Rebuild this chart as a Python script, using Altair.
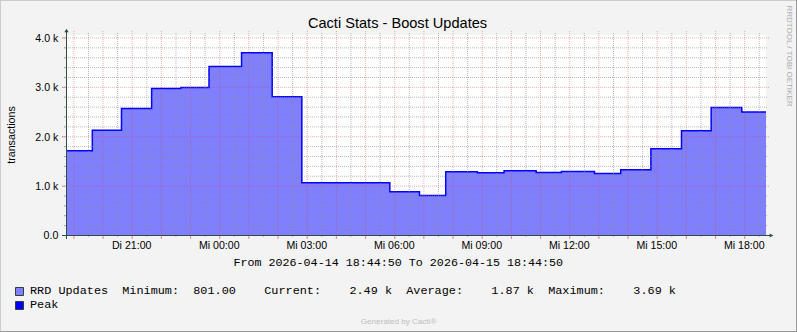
import altair as alt
import pandas as pd

# ---------------- data ----------------
START = "2026-04-14 18:44:50"
END = "2026-04-15 18:44:50"

step_times = [
    "2026-04-14 18:44:50", "2026-04-14 19:39", "2026-04-14 20:39", "2026-04-14 21:41",
    "2026-04-14 22:41", "2026-04-14 23:39", "2026-04-15 00:46", "2026-04-15 01:49",
    "2026-04-15 02:50", "2026-04-15 05:51", "2026-04-15 06:52", "2026-04-15 07:46",
    "2026-04-15 08:51", "2026-04-15 09:46", "2026-04-15 10:52", "2026-04-15 11:44",
    "2026-04-15 12:52", "2026-04-15 13:46", "2026-04-15 14:48", "2026-04-15 15:51",
    "2026-04-15 16:52", "2026-04-15 17:55",
]
rrd_updates = [1708, 2120, 2560, 2965, 2985, 3410, 3690, 2800, 1060, 876, 801,
               1280, 1260, 1300, 1268, 1288, 1247, 1320, 1748, 2113, 2580, 2490]
peak = [1708, 2120, 2560, 2965, 2985, 3410, 3690, 2800, 1060, 876, 801,
        1280, 1260, 1300, 1268, 1288, 1247, 1320, 1748, 2113, 2580, 2490]

x_tick_times = ["2026-04-14 21:00", "2026-04-15 00:00", "2026-04-15 03:00", "2026-04-15 06:00",
                "2026-04-15 09:00", "2026-04-15 12:00", "2026-04-15 15:00", "2026-04-15 18:00"]
x_tick_labels = ["Di 21:00", "Mi 00:00", "Mi 03:00", "Mi 06:00",
                 "Mi 09:00", "Mi 12:00", "Mi 15:00", "Mi 18:00"]
y_tick_values = [0, 1000, 2000, 3000, 4000]
y_tick_labels = ["0.0", "1.0 k", "2.0 k", "3.0 k", "4.0 k"]

title_text = "Cacti Stats - Boost Updates"
y_title = "transactions"
range_text = "From 2026-04-14 18:44:50 To 2026-04-15 18:44:50"
legend_names = ["RRD Updates", "Peak"]
legend_colors = ["#7F7FFF", "#0000FF"]
stat_names = ["Minimum:", "Current:", "Average:", "Maximum:"]
stat_values = ["801.00", "2.49 k", "1.87 k", "3.69 k"]
footer_text = "Generated by Cacti\u00ae"
side_text = "RRDTOOL / TOBI OETIKER"

# ---------------- helpers ----------------
t0 = pd.Timestamp(START)


def hours(t):
    return (pd.Timestamp(t) - t0) / pd.Timedelta(hours=1)


main = pd.DataFrame({
    "h": [hours(t) for t in step_times] + [hours(END)],
    "updates": rrd_updates + [rrd_updates[-1]],
    "peak": peak + [peak[-1]],
})

major_x = pd.DataFrame({"h": [hours(t) for t in pd.date_range("2026-04-14 19:00", "2026-04-15 18:00", freq="h")]})
minor_x = pd.DataFrame({"h": [hours(t) for t in pd.date_range("2026-04-14 19:30", "2026-04-15 18:30", freq="h")]})
major_y = pd.DataFrame({"v": [1000, 2000, 3000, 4000]})
minor_y = pd.DataFrame({"v": [v for v in range(200, 4001, 200) if v % 1000 != 0]})
xlab = pd.DataFrame({"h": [hours(t) for t in x_tick_times], "label": x_tick_labels})
ylab = pd.DataFrame({"v": y_tick_values, "label": y_tick_labels})

W, H = 700, 200
xs = alt.Scale(domain=[0, 24], nice=False, zero=False)
ys = alt.Scale(domain=[0, 4050], nice=False, zero=False)
X = alt.X("h:Q", scale=xs, axis=None)
AXIS_C = "#2C4D43"
GRID_C = "#8C8C8C"
MGRID_C = "#D04848"
SANS = "Liberation Sans"
MONO = "Liberation Mono"


def one(text):
    return pd.DataFrame({"t": [text]})


layers = []

# data
layers.append(alt.Chart(main).mark_area(interpolate="step-after", color="#7F7FFF").encode(
    x=X, y=alt.Y("updates:Q", scale=ys, axis=None)))
layers.append(alt.Chart(main).mark_line(interpolate="step-after", color="#0000FF", strokeWidth=1.5).encode(
    x=X, y=alt.Y("peak:Q", scale=ys, axis=None)))

# grid (drawn over data, semi transparent like rrdtool)
layers.append(alt.Chart(minor_y).mark_rule(color=GRID_C, opacity=0.6, strokeDash=[1, 1], yOffset=0.5).encode(
    y=alt.Y("v:Q", scale=ys, axis=None), x=alt.value(-2), x2=alt.value(W + 2)))
layers.append(alt.Chart(minor_x).mark_rule(color=GRID_C, opacity=0.6, strokeDash=[1, 1], xOffset=0.5).encode(
    x=X, y=alt.value(-2), y2=alt.value(H + 2)))
layers.append(alt.Chart(major_y).mark_rule(color=MGRID_C, opacity=0.42, strokeDash=[1, 1], yOffset=0.5).encode(
    y=alt.Y("v:Q", scale=ys, axis=None), x=alt.value(-4), x2=alt.value(W + 4)))
layers.append(alt.Chart(major_x).mark_rule(color=MGRID_C, opacity=0.42, strokeDash=[1, 1], xOffset=0.5).encode(
    x=X, y=alt.value(-4), y2=alt.value(H + 4)))
# solid stubs
layers.append(alt.Chart(minor_y).mark_rule(color=GRID_C, opacity=0.6, yOffset=0.5).encode(
    y=alt.Y("v:Q", scale=ys, axis=None), x=alt.value(-2), x2=alt.value(0)))
layers.append(alt.Chart(major_y).mark_rule(color=MGRID_C, opacity=0.5, yOffset=0.5).encode(
    y=alt.Y("v:Q", scale=ys, axis=None), x=alt.value(-4), x2=alt.value(0)))
layers.append(alt.Chart(minor_x).mark_rule(color=GRID_C, opacity=0.6, xOffset=0.5).encode(
    x=X, y=alt.value(H), y2=alt.value(H + 2)))
layers.append(alt.Chart(major_x).mark_rule(color=MGRID_C, opacity=0.5, xOffset=0.5).encode(
    x=X, y=alt.value(H), y2=alt.value(H + 4)))

# axes
layers.append(alt.Chart(one("x")).mark_rule(color=AXIS_C, strokeWidth=1).encode(
    x=alt.value(-4), x2=alt.value(W + 4), y=alt.value(H + 0.5)))
layers.append(alt.Chart(one("y")).mark_rule(color=AXIS_C, strokeWidth=1).encode(
    x=alt.value(0.5), y=alt.value(-4), y2=alt.value(H + 4)))
layers.append(alt.Chart(one("up")).mark_point(shape="triangle-up", filled=True, opacity=1, color=AXIS_C, size=18).encode(
    x=alt.value(0.5), y=alt.value(-4.5)))
layers.append(alt.Chart(one("right")).mark_point(shape="triangle-right", filled=True, opacity=1, color=AXIS_C, size=18).encode(
    x=alt.value(W + 5.5), y=alt.value(H + 0.5)))

# tick labels
layers.append(alt.Chart(xlab).mark_text(font=SANS, fontSize=10.6, align="center", baseline="alphabetic", color="#000000").encode(
    x=X, y=alt.value(213.7), text="label:N"))
layers.append(alt.Chart(ylab).mark_text(font=SANS, fontSize=10.6, align="right", baseline="alphabetic", dy=4.4, color="#000000").encode(
    y=alt.Y("v:Q", scale=ys, axis=None), x=alt.value(-7.7), text="label:N"))

# titles and annotations
layers.append(alt.Chart(one(title_text)).mark_text(font=SANS, fontSize=14.6, align="center", baseline="alphabetic", color="#000000").encode(
    x=alt.value(331.5), y=alt.value(-6.7), text="t:N"))
layers.append(alt.Chart(one(y_title)).mark_text(font=SANS, fontSize=10.7, angle=270, align="center", baseline="alphabetic", color="#000000").encode(
    x=alt.value(-51), y=alt.value(100), text="t:N"))
layers.append(alt.Chart(one(range_text.replace(" ", "\u00a0"))).mark_text(font=MONO, fontSize=11.7, align="center", baseline="alphabetic", color="#000000").encode(
    x=alt.value(332.3), y=alt.value(231), text="t:N"))

legend_line = (legend_names[0] + "  " + stat_names[0] + "  " + stat_values[0] + "    "
               + stat_names[1] + "    " + stat_values[1] + "  " + stat_names[2] + "    "
               + stat_values[2] + "  " + stat_names[3] + "    " + stat_values[3])
layers.append(alt.Chart(one(legend_line.replace(" ", "\u00a0"))).mark_text(font=MONO, fontSize=11.83, align="left", baseline="alphabetic", color="#000000").encode(
    x=alt.value(-36), y=alt.value(259), text="t:N"))
layers.append(alt.Chart(one(legend_names[1])).mark_text(font=MONO, fontSize=11.83, align="left", baseline="alphabetic", color="#000000").encode(
    x=alt.value(-36), y=alt.value(273), text="t:N"))
for i, col in enumerate(legend_colors):
    y0 = 252.5 + 14 * i
    layers.append(alt.Chart(one(legend_names[i])).mark_rect(fill=col, stroke="#2F3F3F", strokeWidth=1).encode(
        x=alt.value(-50.5), x2=alt.value(-42.5), y=alt.value(y0), y2=alt.value(y0 + 8)))

layers.append(alt.Chart(one(footer_text)).mark_text(font=SANS, fontSize=8.1, align="center", baseline="alphabetic", color="#BDBDBD").encode(
    x=alt.value(332.5), y=alt.value(289), text="t:N"))
layers.append(alt.Chart(one(side_text)).mark_text(font=SANS, fontSize=8, angle=90, align="center", baseline="middle", color="#ABABAB").encode(
    x=alt.value(722.5), y=alt.value(21), text="t:N"))

# outer border
layers.append(alt.Chart(one("top")).mark_rule(color="#CBCBCB").encode(x=alt.value(-66), x2=alt.value(731), y=alt.value(-34.5)))
layers.append(alt.Chart(one("left")).mark_rule(color="#CBCBCB").encode(x=alt.value(-65.5), y=alt.value(-35), y2=alt.value(297)))
layers.append(alt.Chart(one("bottom")).mark_rule(color="#999999").encode(x=alt.value(-66), x2=alt.value(731), y=alt.value(296.5)))
layers.append(alt.Chart(one("right")).mark_rule(color="#999999").encode(x=alt.value(730.5), y=alt.value(-35), y2=alt.value(297)))

chart = alt.layer(*layers).properties(
    width=W,
    height=H,
    autosize=alt.AutoSizeParams(type="none"),
    padding={"left": 66, "top": 35, "right": 31, "bottom": 97},
    background="#F3F3F3",
).configure_view(stroke=None, fill="#FFFFFF")

chart.save("out.html", embed_options={"renderer": "svg", "actions": False})
